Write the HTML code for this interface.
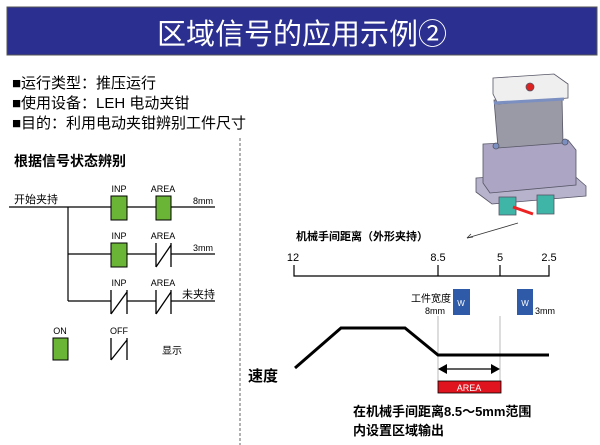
<!DOCTYPE html>
<html><head><meta charset="utf-8"><style>
body{margin:0;background:#fff;width:600px;height:445px;overflow:hidden}
svg{display:block}
text{font-family:"Liberation Sans","Noto Sans CJK SC",sans-serif}
</style></head><body>
<svg width="600" height="445" viewBox="0 0 600 445">
<rect x="7" y="7" width="590" height="48" fill="#2b2f8f" stroke="#555" stroke-width="1"/>
<text x="302" y="44" fill="#fff" font-size="29" text-anchor="middle">区域信号的应用示例②</text>
<g font-size="15" fill="#000">
<text x="12" y="88">■运行类型：推压运行</text>
<text x="12" y="108">■使用设备：LEH  电动夹钳</text>
<text x="12" y="128">■目的：利用电动夹钳辨别工件尺寸</text>
</g>
<line x1="240" y1="138" x2="240" y2="445" stroke="#666" stroke-dasharray="3,2"/>
<text x="14" y="166" font-size="14" font-weight="bold">根据信号状态辨别</text>
<g stroke="#000" stroke-width="1.2" fill="none">
<line x1="9" y1="207" x2="215" y2="207"/>
<line x1="68" y1="207" x2="68" y2="301"/>
<line x1="68" y1="254" x2="215" y2="254"/>
<line x1="68" y1="301" x2="215" y2="301"/>
</g>
<g fill="#6ab536" stroke="#000" stroke-width="1">
<rect x="111" y="196" width="16" height="24"/>
<rect x="156" y="196" width="15" height="24"/>
<rect x="111" y="243" width="16" height="24"/>
<rect x="53" y="338" width="15" height="22"/>
</g>
<g fill="#fff" stroke="#000" stroke-width="1.3">
<rect x="156" y="243" width="15" height="24" stroke="none"/>
<rect x="111" y="290" width="16" height="24" stroke="none"/>
<rect x="156" y="290" width="15" height="24" stroke="none"/>
<rect x="111" y="338" width="16" height="22" stroke="none"/>
<path d="M156 243v24M171 243v24M156 267L171 245"/>
<path d="M111 290v24M127 290v24M111 314L127 292"/>
<path d="M156 290v24M171 290v24M156 314L171 292"/>
<path d="M111 338v22M127 338v22M111 360L127 340"/>
</g>
<g font-size="9" fill="#000" text-anchor="middle">
<text x="119" y="192">INP</text><text x="163" y="192">AREA</text>
<text x="119" y="239">INP</text><text x="163" y="239">AREA</text>
<text x="119" y="286">INP</text><text x="163" y="286">AREA</text>
<text x="60" y="334">ON</text><text x="119" y="334">OFF</text>
</g>
<g font-size="9"><text x="193" y="204">8mm</text><text x="193" y="251">3mm</text></g>
<g font-size="11"><text x="14" y="203">开始夹持</text><text x="182" y="298">未夹持</text></g>
<text x="162" y="354" font-size="10">显示</text>

<!-- device -->
<g stroke="#556" stroke-width="0.8">
<path d="M476 178L570 172L586 186L586 196L492 204L476 192Z" fill="#b8b3cc"/>
<rect x="499" y="197" width="17" height="18" fill="#3fb5a8"/>
<rect x="537" y="195" width="17" height="19" fill="#3fb5a8"/>
<path d="M483 144L568 140L576 150L576 185L490 193L483 183Z" fill="#aca5c3"/>
<path d="M494 100L562 97L563 143L498 148Z" fill="#9a9aa6"/>
<path d="M493 78L554 74L568 84L568 98L498 104L493 94Z" fill="#efefef"/>
<circle cx="530" cy="87" r="4" fill="#d22"/>
<path d="M494 103L564 99" stroke="#7b8fc0" stroke-width="3"/>
<circle cx="496" cy="146" r="3" fill="#7b8fc0"/>
<circle cx="565" cy="142" r="3" fill="#7b8fc0"/>
</g>
<path d="M513 207L533 214" stroke="#e22" stroke-width="3"/>
<path d="M518 223L467 238" stroke="#333" stroke-width="0.8"/>
<path d="M467 238l6-1M467 238l4-4" stroke="#333" stroke-width="0.8"/>

<text x="296" y="240" font-size="11" font-weight="bold">机械手间距离（外形夹持）</text>
<g font-size="11" text-anchor="middle"><text x="293" y="261">12</text><text x="438" y="261">8.5</text><text x="500" y="261">5</text><text x="549" y="261">2.5</text></g>
<path d="M294 265v11h255v-11M438 265v11M500 265v11" stroke="#000" stroke-width="1.2" fill="none"/>
<rect x="453" y="289" width="17" height="26" fill="#2f5aa8"/>
<rect x="517" y="289" width="16" height="26" fill="#2f5aa8"/>
<g fill="#fff" font-size="8" text-anchor="middle"><text x="461" y="306">W</text><text x="525" y="306">W</text></g>
<text x="451" y="302" font-size="10" text-anchor="end">工件宽度</text>
<text x="445" y="314" font-size="9" text-anchor="end">8mm</text>
<text x="535" y="314" font-size="9">3mm</text>
<path d="M438 316v66M500 316v66" stroke="#aaa" stroke-width="0.8"/>
<path d="M295 368L341 328L405 328L438 355L549 355" stroke="#000" stroke-width="3" fill="none"/>
<path d="M444 369H494" stroke="#000" stroke-width="1.2"/>
<path d="M438 369l9-5v10zM500 369l-9-5v10z" fill="#000"/>
<rect x="438" y="381" width="63" height="12" fill="#e0141e" stroke="#000" stroke-width="0.8"/>
<text x="469" y="391" fill="#fff" font-size="9" text-anchor="middle">AREA</text>
<text x="248" y="381" font-size="15" font-weight="bold">速度</text>
<text x="353" y="416" font-size="13" font-weight="bold">在机械手间距离8.5～5mm范围</text>
<text x="353" y="435" font-size="13" font-weight="bold">内设置区域输出</text>
</svg>
</body></html>
